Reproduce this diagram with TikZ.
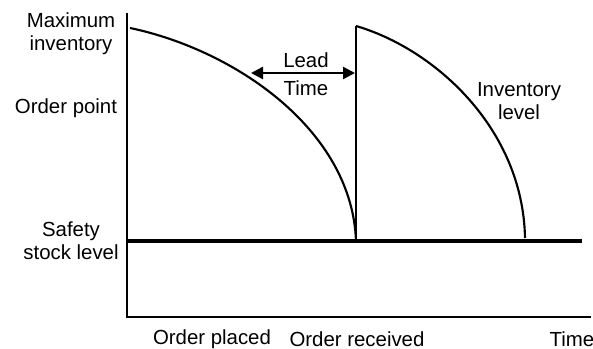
\documentclass[tikz,border=0pt]{standalone}
\usepackage{fontspec}
\setmainfont{Liberation Sans}
\usetikzlibrary{arrows.meta}

\tikzset{
  lbl/.style={font=\fontsize{15.3}{17.3}\selectfont, align=center, inner sep=0pt},
  axis/.style={line width=1.6pt},
  level/.style={line width=1.6pt},
}

\begin{document}
\begin{tikzpicture}[x=0.75pt, y=-0.75pt]
  \useasboundingbox (0,0) rectangle (593,349);
  % axes
  \coordinate (top) at (127,13);
  \coordinate (orig) at (127,317);
  \coordinate (xend) at (591,317);
  \draw[axis] (top) -- (orig) -- (xend);
  % safety stock line
  \coordinate (ss0) at (127,241);
  \coordinate (ss1) at (582,241);
  \draw[line width=2.3pt] (ss0) -- (ss1);
  % inventory level
  \coordinate (max1) at (130,28);
  \coordinate (rcv) at (356,241);
  \coordinate (max2) at (356,26);
  \coordinate (low2) at (525,238);
  \draw[level] (max1) .. controls (235,50) and (352,130) .. (rcv);
  \draw[level] (rcv) -- (max2);
  \draw[level] (max2) .. controls (435,49) and (523,129) .. (low2);
  % lead time
  \coordinate (lt0) at (251,73);
  \coordinate (lt1) at (355,73);
  \draw[line width=1.8pt, {Triangle[length=9pt,width=9pt]}-{Triangle[length=9pt,width=9pt]}] (lt0) -- (lt1);
  \node[lbl] (lead) at (306,60) {Lead};
  \node[lbl] (ltime) at (306,88) {Time};
  % labels
  \node[lbl] (maxinv) at (71,34) {Maximum\\inventory};
  \node[lbl] (orderpt) at (66,108) {Order point};
  \node[lbl] (safety) at (71,241) {Safety\\stock level};
  \node[lbl] (invlvl) at (519,101) {Inventory\\level};
  \node[lbl] (placed) at (212,339) {Order placed};
  \node[lbl] (received) at (357,339) {Order received};
  \node[lbl] (time) at (572,339) {Time};
\end{tikzpicture}
\end{document}
